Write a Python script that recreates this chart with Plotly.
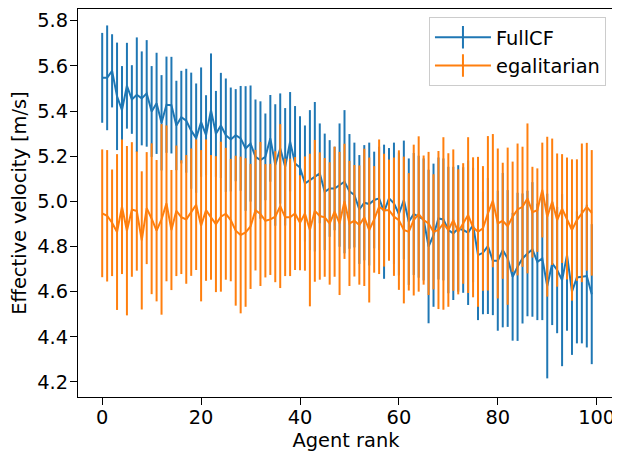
import plotly.graph_objects as go

ranks = list(range(100))

fullcf_mean = [
    5.547, 5.547, 5.578, 5.465, 5.404, 5.512, 5.451, 5.472, 5.456, 5.478,
    5.398, 5.434, 5.348, 5.428, 5.426, 5.336, 5.373, 5.357, 5.313, 5.280,
    5.351, 5.293, 5.404, 5.299, 5.336, 5.293, 5.274, 5.293, 5.279, 5.234,
    5.256, 5.197, 5.183, 5.197, 5.279, 5.161, 5.234, 5.153, 5.264, 5.168,
    5.150, 5.079, 5.094, 5.109, 5.124, 5.042, 5.057, 5.057, 5.072, 5.087,
    5.044, 5.028, 4.964, 4.994, 4.988, 5.006, 5.013, 4.954, 5.013, 4.991,
    4.944, 5.006, 4.910, 4.944, 4.932, 4.920, 4.800, 4.850, 4.924, 4.920,
    4.873, 4.858, 4.880, 4.873, 4.861, 4.895, 4.762, 4.772, 4.802, 4.737,
    4.737, 4.784, 4.747, 4.666, 4.710, 4.747, 4.769, 4.787, 4.732, 4.747,
    4.625, 4.725, 4.696, 4.651, 4.762, 4.600, 4.663, 4.666, 4.669, 4.589,
]
fullcf_err = [
    0.199, 0.232, 0.162, 0.238, 0.195, 0.190, 0.152, 0.254, 0.208, 0.236,
    0.201, 0.224, 0.211, 0.213, 0.214, 0.198, 0.205, 0.230, 0.257, 0.242,
    0.242, 0.177, 0.251, 0.190, 0.233, 0.251, 0.230, 0.204, 0.232, 0.276,
    0.257, 0.254, 0.260, 0.192, 0.192, 0.269, 0.244, 0.260, 0.220, 0.254,
    0.227, 0.257, 0.310, 0.331, 0.221, 0.258, 0.214, 0.185, 0.273, 0.317,
    0.254, 0.232, 0.241, 0.255, 0.272, 0.214, 0.229, 0.297, 0.223, 0.269,
    0.272, 0.263, 0.280, 0.270, 0.270, 0.270, 0.340, 0.317, 0.270, 0.270,
    0.280, 0.295, 0.280, 0.278, 0.320, 0.254, 0.288, 0.272, 0.301, 0.241,
    0.310, 0.342, 0.303, 0.283, 0.328, 0.288, 0.278, 0.298, 0.258, 0.273,
    0.409, 0.273, 0.280, 0.381, 0.335, 0.280, 0.292, 0.295, 0.316, 0.310,
]
egal_mean = [
    4.947, 4.936, 4.905, 4.864, 4.976, 4.870, 4.964, 4.957, 4.827, 4.970,
    4.923, 4.870, 4.920, 4.991, 4.873, 4.958, 4.930, 4.920, 4.952, 4.985,
    4.892, 4.961, 4.929, 4.899, 4.932, 4.945, 4.917, 4.870, 4.851, 4.862,
    4.889, 4.961, 4.944, 4.914, 4.920, 4.932, 4.979, 4.929, 4.929, 4.946,
    4.905, 4.946, 4.873, 4.958, 4.935, 4.929, 4.902, 4.954, 4.902, 5.000,
    4.902, 4.914, 4.895, 4.929, 4.873, 4.920, 4.976, 4.961, 4.961, 4.932,
    4.917, 4.873, 4.865, 4.917, 4.944, 4.917, 4.902, 4.865, 4.873, 4.902,
    4.873, 4.917, 4.865, 4.902, 4.939, 4.885, 4.865, 4.880, 4.947, 5.003,
    4.902, 4.914, 4.890, 4.932, 4.964, 4.976, 5.013, 4.952, 4.961, 5.050,
    4.932, 4.998, 4.917, 4.968, 4.924, 4.873, 4.917, 4.949, 4.976, 4.949,
]
egal_err = [
    0.283, 0.291, 0.236, 0.345, 0.298, 0.375, 0.298, 0.264, 0.306, 0.248,
    0.334, 0.313, 0.422, 0.345, 0.266, 0.289, 0.252, 0.285, 0.282, 0.289,
    0.335, 0.313, 0.276, 0.301, 0.332, 0.292, 0.271, 0.332, 0.347, 0.329,
    0.277, 0.267, 0.319, 0.251, 0.246, 0.290, 0.363, 0.260, 0.260, 0.250,
    0.210, 0.253, 0.338, 0.314, 0.282, 0.263, 0.271, 0.288, 0.317, 0.255,
    0.277, 0.247, 0.264, 0.304, 0.321, 0.236, 0.298, 0.250, 0.224, 0.262,
    0.309, 0.325, 0.260, 0.334, 0.344, 0.286, 0.317, 0.255, 0.350, 0.382,
    0.340, 0.313, 0.277, 0.267, 0.345, 0.310, 0.332, 0.276, 0.342, 0.295,
    0.332, 0.257, 0.348, 0.244, 0.292, 0.266, 0.332, 0.201, 0.185, 0.210,
    0.354, 0.280, 0.295, 0.241, 0.270, 0.313, 0.269, 0.307, 0.283, 0.278,
]

x_ticks = [0, 20, 40, 60, 80, 100]
y_ticks = [4.2, 4.4, 4.6, 4.8, 5.0, 5.2, 5.4, 5.6, 5.8]

BLUE = "#1f77b4"
ORANGE = "#ff7f0e"
FONT = "DejaVu Sans"
FS = 19.4
LW = 2

fig = go.Figure()
for name, mean, err, col in [("FullCF", fullcf_mean, fullcf_err, BLUE),
                             ("egalitarian", egal_mean, egal_err, ORANGE)]:
    fig.add_trace(go.Scatter(
        x=ranks, y=mean, mode="lines", name=name, showlegend=False,
        line=dict(color=col, width=LW),
        error_y=dict(type="data", array=err, visible=True, color=col,
                     thickness=LW, width=0),
    ))
for name, col in [("FullCF", BLUE), ("egalitarian", ORANGE)]:
    fig.add_trace(go.Scatter(
        x=[None], y=[None], mode="lines+markers", name=name, legendgroup=name,
        line=dict(color=col, width=LW),
        marker=dict(symbol="line-ns", size=20, color=col,
                    line=dict(color=col, width=LW)),
    ))

axis_common = dict(showline=True, linecolor="black", linewidth=1.3, mirror=True,
                   ticks="outside", ticklen=7, tickwidth=1.3, tickcolor="black",
                   showgrid=False, zeroline=False, automargin=False,
                   tickfont=dict(family=FONT, size=FS, color="black"))

fig.update_xaxes(range=[-4.894, 103.5], tickvals=x_ticks, ticklabelstandoff=-4,
                 title=dict(text="Agent rank", font=dict(family=FONT, size=FS, color="black"),
                            standoff=8),
                 **axis_common)
fig.update_yaxes(range=[4.1335, 5.8518], tickvals=y_ticks, tickformat=".1f",
                 ticklabelstandoff=-2,
                 title=dict(text="Effective velocity [m/s]",
                            font=dict(family=FONT, size=FS, color="black"), standoff=8),
                 **axis_common)

fig.update_layout(
    width=612, height=444,
    margin=dict(l=70, r=6, t=1, b=55, autoexpand=False),
    paper_bgcolor="white", plot_bgcolor="white",
    font=dict(family=FONT, size=FS, color="black"),
    legend=dict(x=0.985, y=0.979, xanchor="right", yanchor="top",
                bgcolor="rgba(255,255,255,0.8)", bordercolor="#cccccc", borderwidth=1,
                itemwidth=56, tracegroupgap=0,
                font=dict(family=FONT, size=FS, color="black")),
)

fig.write_html("out.html")
